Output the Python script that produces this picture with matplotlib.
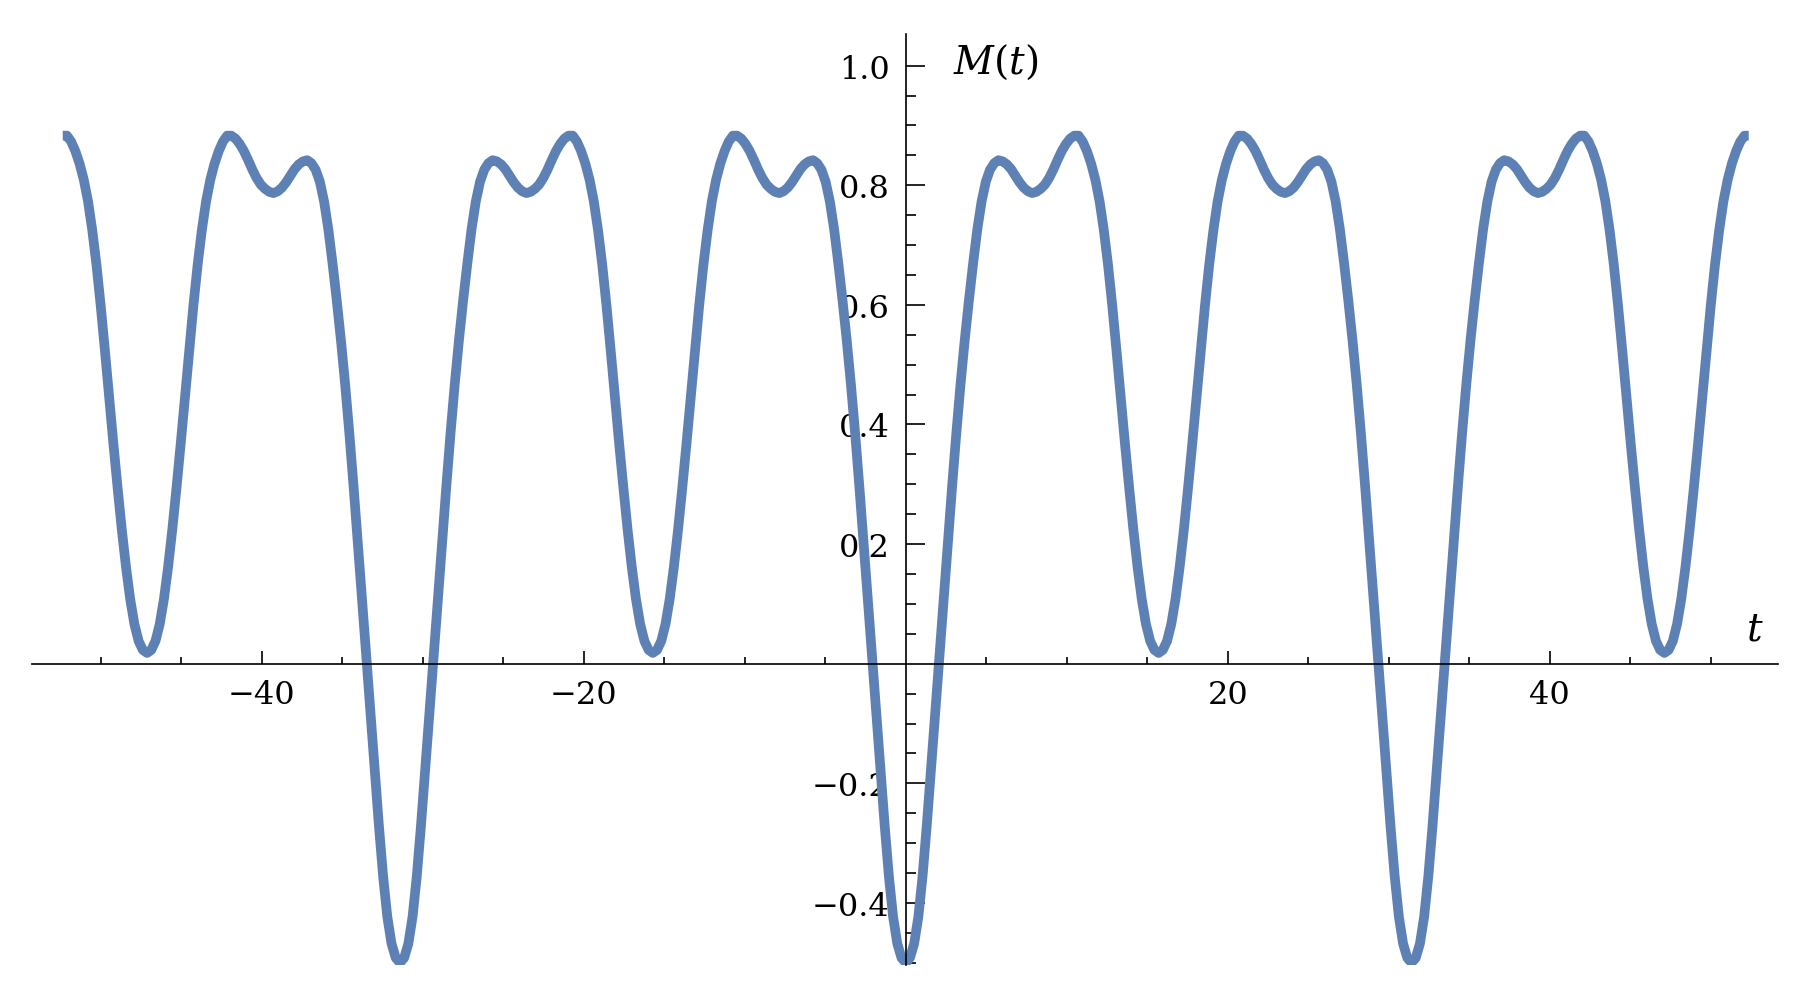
import numpy as np
import matplotlib
matplotlib.use('Agg')
import matplotlib.pyplot as plt
from matplotlib.ticker import FixedLocator, FixedFormatter

# The curve is even and periodic (minima of -0.5 at 0, +-10pi; near-zero minima at +-5pi, +-15pi).
PERIOD = 10 * np.pi
M_half = [
    -0.500, -0.492, -0.468, -0.423, -0.355, -0.270, -0.177, -0.082, 0.013, 0.108,
    0.203, 0.296, 0.385, 0.467, 0.541, 0.608, 0.670, 0.727, 0.773, 0.806,
    0.826, 0.837, 0.842, 0.840, 0.835, 0.827, 0.816, 0.805, 0.796, 0.790,
    0.787, 0.789, 0.794, 0.801, 0.812, 0.826, 0.842, 0.857, 0.869, 0.878,
    0.883, 0.883, 0.873, 0.857, 0.836, 0.809, 0.773, 0.725, 0.667, 0.599,
    0.524, 0.446, 0.369, 0.295, 0.225, 0.162, 0.108, 0.066, 0.038, 0.023,
    0.018,
]

x_major = [-40, -20, 20, 40]
x_minor = [-50, -45, -35, -30, -25, -15, -10, -5, 5, 10, 15, 25, 30, 35, 45, 50]
y_major = [-0.4, -0.2, 0.2, 0.4, 0.6, 0.8, 1.0]
y_major_labels = ['\u22120.4', '\u22120.2', '0.2', '0.4', '0.6', '0.8', '1.0']
y_minor = [-0.5, -0.45, -0.35, -0.3, -0.25, -0.15, -0.1, -0.05, 0.05, 0.1, 0.15,
           0.25, 0.3, 0.35, 0.45, 0.5, 0.55, 0.65, 0.7, 0.75, 0.85, 0.9, 0.95]

# one full period = half period + its mirror, then repeated over t in [-5/3 T, 5/3 T]
one_period = np.concatenate([M_half, M_half[-2:0:-1]])
k = np.arange(-200, 201)
t = k * PERIOD / len(one_period)
m = one_period[k % len(one_period)]

plt.rcParams['mathtext.fontset'] = 'dejavuserif'
plt.rcParams['font.family'] = ['DejaVu Serif']

fig = plt.figure(figsize=(18.03, 9.87), dpi=100)
ax = fig.add_axes([32 / 1803, 21.5 / 987, 1746 / 1803, 930.5 / 987])

ax.plot(t, m, color='#5E81B5', lw=7, solid_joinstyle='round', solid_capstyle='butt')

ax.set_xlim(-54.27, 54.18)
ax.set_ylim(-0.503, 1.053)

for side in ['top', 'right']:
    ax.spines[side].set_visible(False)
ax.spines['left'].set_position(('data', 0))
ax.spines['bottom'].set_position(('data', 0))
for side in ['left', 'bottom']:
    ax.spines[side].set_linewidth(1.2)

ax.xaxis.set_major_locator(FixedLocator(x_major))
ax.xaxis.set_minor_locator(FixedLocator(x_minor))
ax.yaxis.set_major_locator(FixedLocator(y_major))
ax.yaxis.set_major_formatter(FixedFormatter(y_major_labels))
ax.yaxis.set_minor_locator(FixedLocator(y_minor))

ax.tick_params(axis='x', which='major', direction='in', length=9.5, width=1.2, pad=11, labelsize=23)
ax.tick_params(axis='x', which='minor', direction='in', length=4.7, width=1.2)
ax.tick_params(axis='y', which='major', direction='in', length=13.5, width=1.2, pad=11.5, labelsize=23)
ax.tick_params(axis='y', which='minor', direction='in', length=7.4, width=1.2)

ax.text(5.6, 1.008, r'$M(t)$', fontsize=28, ha='center', va='center')
ax.text(52.72, 0.058, r'$t$', fontsize=28, ha='center', va='center')

plt.savefig('out.png', dpi=100)
